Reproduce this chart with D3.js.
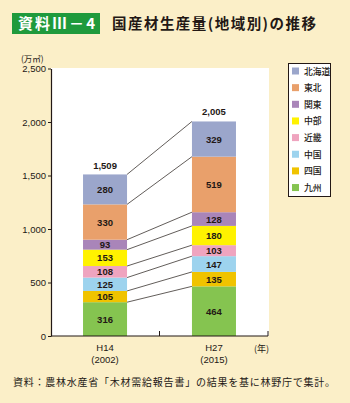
<!DOCTYPE html>
<html>
<head>
<meta charset="utf-8">
<script src="https://cdn.jsdelivr.net/npm/d3@7"></script>
<style>
  body { margin: 0; background: #fbefc8; }
  svg { display: block; font-family: "Noto Sans CJK JP", "Noto Sans", sans-serif; }
</style>
</head>
<body>
<div id="chart"></div>
<script>
var years = ["H14", "H27"];
var yearLabels = ["(2002)", "(2015)"];
// stacked from bottom to top
var regions = ["九州", "四国", "中国", "近畿", "中部", "関東", "東北", "北海道"];
var kyushu = [316, 464];
var shikoku = [105, 135];
var chugoku = [125, 147];
var kinki = [108, 103];
var chubu = [153, 180];
var kanto = [93, 128];
var tohoku = [330, 519];
var hokkaido = [280, 329];
var totals = [1509, 2005];
var yTicks = [0, 500, 1000, 1500, 2000, 2500];
var colors = ["#85c450", "#f0c300", "#9dd3ee", "#efa4bf", "#fff200", "#a985b9", "#e9a06b", "#9ba6cb"];

var series = [kyushu, shikoku, chugoku, kinki, chubu, kanto, tohoku, hokkaido];
var ink = "#231815";

var width = 350, height = 403;
var plot = {left: 51, right: 268, top: 68.5, bottom: 336};

var svg = d3.select("#chart")
  .append("svg")
    .attr("width", width)
    .attr("height", height);

svg.append("rect")
    .attr("width", width)
    .attr("height", height)
    .attr("fill", "#fbefc8");

// title
svg.append("rect")
    .attr("x", 12).attr("y", 13)
    .attr("width", 88).attr("height", 21)
    .attr("fill", "#1f9a3c");
svg.append("text")
    .attr("x", 18).attr("y", 29)
    .attr("fill", "#fff")
    .attr("font-weight", 700)
    .style("font-size", "15px")
    .attr("textLength", 77)
    .text("資料Ⅲ－4");
svg.append("text")
    .attr("x", 112).attr("y", 29)
    .attr("fill", ink)
    .attr("font-weight", 700)
    .style("font-size", "14.5px")
    .attr("textLength", 204)
    .text("国産材生産量(地域別)の推移");

// plot background
svg.append("rect")
    .attr("x", plot.left).attr("y", plot.top - 0.5)
    .attr("width", plot.right - plot.left + 1)
    .attr("height", plot.bottom - plot.top + 0.5)
    .attr("fill", "#fff");

var x = d3.scaleBand()
    .domain(years)
    .range([plot.left, plot.right])
    .paddingInner(0.596)
    .paddingOuter(0.294);

var y = d3.scaleLinear()
    .domain([0, 2500])
    .range([plot.bottom, plot.top]);

var stackData = years.map(function(yr, i) {
  var row = {year: yr};
  regions.forEach(function(r, j) { row[r] = series[j][i]; });
  return row;
});
var stacked = d3.stack().keys(regions)(stackData);

// connecting lines
stacked.forEach(function(layer) {
  svg.append("line")
      .attr("x1", x(years[0]) + x.bandwidth())
      .attr("y1", y(layer[0][1]))
      .attr("x2", x(years[1]))
      .attr("y2", y(layer[1][1]))
      .attr("stroke", "#3a3330")
      .attr("stroke-width", 0.8);
});

var groups = svg.append("g")
  .selectAll("g")
  .data(stacked)
  .enter().append("g")
    .attr("fill", function(d, i) { return colors[i]; });

groups.selectAll("rect")
  .data(function(d) { return d; })
  .enter().append("rect")
    .attr("x", function(d) { return x(d.data.year); })
    .attr("y", function(d) { return y(d[1]); })
    .attr("height", function(d) { return y(d[0]) - y(d[1]); })
    .attr("width", x.bandwidth());

groups.selectAll("text")
  .data(function(d) { return d; })
  .enter().append("text")
    .attr("x", function(d) { return x(d.data.year) + x.bandwidth() / 2; })
    .attr("y", function(d) { return (y(d[0]) + y(d[1])) / 2 + 3.5; })
    .attr("text-anchor", "middle")
    .attr("fill", ink)
    .attr("font-weight", 700)
    .style("font-size", "9.5px")
    .style("font-family", "Liberation Sans, Arial, sans-serif")
    .text(function(d, i) { return d[1] - d[0]; });

svg.selectAll(".total")
  .data(totals)
  .enter().append("text")
    .attr("class", "total")
    .attr("x", function(d, i) { return x(years[i]) + x.bandwidth() / 2; })
    .attr("y", function(d) { return y(d) - 6; })
    .attr("text-anchor", "middle")
    .attr("fill", ink)
    .attr("font-weight", 700)
    .style("font-size", "9.5px")
    .style("font-family", "Liberation Sans, Arial, sans-serif")
    .text(function(d) { return d3.format(",")(d); });

// y axis
var yAxis = svg.append("g")
    .attr("transform", "translate(" + plot.left + ",0)")
    .call(d3.axisLeft(y).tickValues(yTicks).tickSize(3).tickSizeOuter(0)
      .tickFormat(d3.format(",")));
yAxis.select(".domain").attr("stroke", ink).attr("stroke-width", 1.2);
yAxis.selectAll(".tick line").attr("stroke", ink);
yAxis.selectAll(".tick text")
    .attr("x", -5)
    .attr("fill", ink)
    .style("font-size", "9.5px")
    .style("font-family", "Liberation Sans, Arial, sans-serif");

svg.append("text")
    .attr("x", 21).attr("y", 62)
    .attr("fill", ink)
    .style("font-size", "8.5px")
    .text("(万㎥)");

// x axis
svg.append("line")
    .attr("x1", plot.left).attr("x2", plot.right)
    .attr("y1", plot.bottom).attr("y2", plot.bottom)
    .attr("stroke", ink).attr("stroke-width", 1.2);
var seps = d3.range(1, years.length + 1).map(function(i) {
  return plot.left + i * (plot.right - plot.left) / years.length;
});
svg.selectAll(".sep")
  .data(seps)
  .enter().append("line")
    .attr("x1", function(d) { return d; }).attr("x2", function(d) { return d; })
    .attr("y1", plot.bottom).attr("y2", plot.bottom - 5)
    .attr("stroke", ink).attr("stroke-width", 1);

svg.selectAll(".xlab")
  .data(years)
  .enter().append("text")
    .attr("x", function(d) { return x(d) + x.bandwidth() / 2; })
    .attr("y", 351)
    .attr("text-anchor", "middle")
    .attr("fill", ink)
    .style("font-size", "9.5px")
    .style("font-family", "Liberation Sans, Arial, sans-serif")
    .text(function(d) { return d; });
svg.selectAll(".xsub")
  .data(yearLabels)
  .enter().append("text")
    .attr("x", function(d, i) { return x(years[i]) + x.bandwidth() / 2; })
    .attr("y", 363)
    .attr("text-anchor", "middle")
    .attr("fill", ink)
    .style("font-size", "9.5px")
    .style("font-family", "Liberation Sans, Arial, sans-serif")
    .text(function(d) { return d; });
svg.append("text")
    .attr("x", 254).attr("y", 352)
    .attr("fill", ink)
    .style("font-size", "9px")
    .text("(年)");

// legend
var legend = svg.append("g");
legend.append("rect")
    .attr("x", 288.5).attr("y", 63.5)
    .attr("width", 42).attr("height", 133)
    .attr("fill", "#fff")
    .attr("stroke", ink).attr("stroke-width", 1);
var legendItems = regions.slice().reverse();
var legendRows = legend.selectAll(".li")
  .data(legendItems)
  .enter().append("g")
    .attr("transform", function(d, i) { return "translate(292," + (71 + i * 16.65) + ")"; });
legendRows.append("rect")
    .attr("x", 0).attr("y", -3.5)
    .attr("width", 7).attr("height", 7)
    .attr("fill", function(d) { return colors[regions.indexOf(d)]; });
legendRows.append("text")
    .attr("x", 12).attr("y", 3.5)
    .attr("fill", ink)
    .attr("font-weight", 500)
    .style("font-size", "8.8px")
    .text(function(d) { return d; });

// source
svg.append("text")
    .attr("x", 13).attr("y", 386)
    .attr("fill", ink)
    .style("font-size", "10px")
    .attr("textLength", 322)
    .text("資料：農林水産省「木材需給報告書」の結果を基に林野庁で集計。");
</script>
</body>
</html>
